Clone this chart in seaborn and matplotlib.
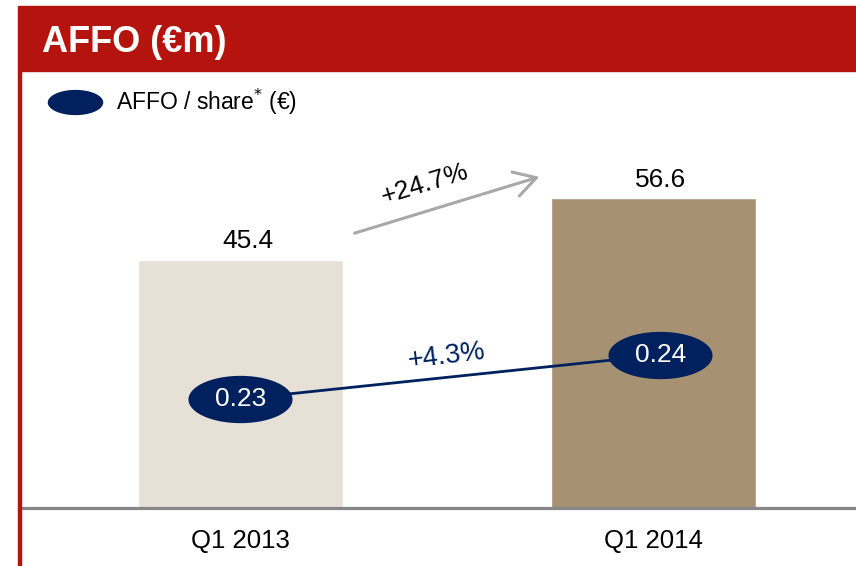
import matplotlib
matplotlib.use("Agg")
import matplotlib.pyplot as plt
import seaborn as sns
import numpy as np
import pandas as pd
from matplotlib.path import Path
from matplotlib.patches import Rectangle

categories = ["Q1 2013", "Q1 2014"]
affo = [45.4, 56.6]
affo_share = [0.23, 0.24]
affo_growth = "+24.7%"
share_growth = "+4.3%"
title = "AFFO (€m)"
legend_label = "AFFO / share$^{*}$ (€)"

RED = "#B5140E"
NAVY = "#00215E"
BAR_COLORS = ["#E6E0D7", "#A69273"]
GREY = "#A8A8A8"

sns.set_theme(style="white")
plt.rcParams["font.family"] = ["Liberation Sans", "DejaVu Sans"]

W, H = 856, 566
fig = plt.figure(figsize=(W / 100, H / 100), dpi=100)

# header band and left rule
fig.patches.append(Rectangle((18 / W, (H - 71) / H), 1 - 18 / W, 65 / H,
                             transform=fig.transFigure, color=RED, zorder=0))
fig.patches.append(Rectangle((18 / W, 0), 3 / W, (H - 71) / H,
                             transform=fig.transFigure, color=RED, zorder=0))
fig.text(42 / W, (H - 42) / H, title, color="white", fontsize=26,
         fontweight="bold", va="center", ha="left")

ax = fig.add_axes([21 / W, (H - 508) / H, 1 - 21 / W, (508 - 130) / H])
df = pd.DataFrame({"cat": categories, "affo": affo})
sns.barplot(data=df, x="cat", y="affo", hue="cat", palette=BAR_COLORS,
            width=0.496, legend=False, ax=ax, saturation=1)
ax.set_xlim(-0.531, 1.490)
ax.set_ylim(0, (508 - 130) / 5.47)
for s in ["top", "right", "left"]:
    ax.spines[s].set_visible(False)
ax.spines["bottom"].set_color("#878787")
ax.spines["bottom"].set_linewidth(2.3)
ax.set_yticks([])
ax.set_xlabel("")
ax.set_ylabel("")
ax.tick_params(axis="x", length=0, pad=15, labelsize=18.5, labelcolor="black")
for i, v in enumerate(affo):
    ax.text(i + 0.018, v + 3.4, f"{v:.1f}", ha="center", va="center",
            fontsize=19, color="black")

# growth arrow
ax.annotate("", xy=(0.730, (508 - 176) / 5.47), xytext=(0.27, (508 - 234) / 5.47),
            arrowprops=dict(arrowstyle="->,head_length=1.3,head_width=0.75",
                            color=GREY, lw=2.2))
ax.text(0.447, (508 - 184) / 5.47, affo_growth, rotation=17, ha="center",
        va="center", fontsize=19, color="black")

# secondary axis for AFFO/share
ax2 = ax.twinx()
ax2.set_ylim(0.23 - (508 - 399) / 4400, 0.24 + (355 - 130) / 4400)
ax2.set_yticks([])
for s in ax2.spines.values():
    s.set_visible(False)
t = np.linspace(0, 2 * np.pi, 60)
ell = Path(np.column_stack([2.2 * np.cos(t), np.sin(t)]))
sns.lineplot(x=[0, 1.016], y=affo_share, ax=ax2, color=NAVY, lw=2,
             marker=ell, markersize=75, markeredgewidth=0, markerfacecolor=NAVY)
ax2.set_xlim(-0.531, 1.490)
for x, v in zip([0, 1.016], affo_share):
    ax2.text(x, v, f"{v:.2f}", ha="center", va="center", color="white",
             fontsize=19)
ax2.text(0.50, 0.2398, share_growth, rotation=7, ha="center", va="center",
         fontsize=19.5, color=NAVY)

# legend
fig.lines.append(plt.Line2D([75 / W], [(H - 102) / H], transform=fig.transFigure,
                            marker=ell, markersize=40, markeredgewidth=0,
                            color=NAVY, linestyle="none"))
fig.text(116 / W, (H - 102) / H, legend_label, fontsize=16.5, va="center",
         ha="left", color="black")

fig.savefig("out.png", dpi=100)
